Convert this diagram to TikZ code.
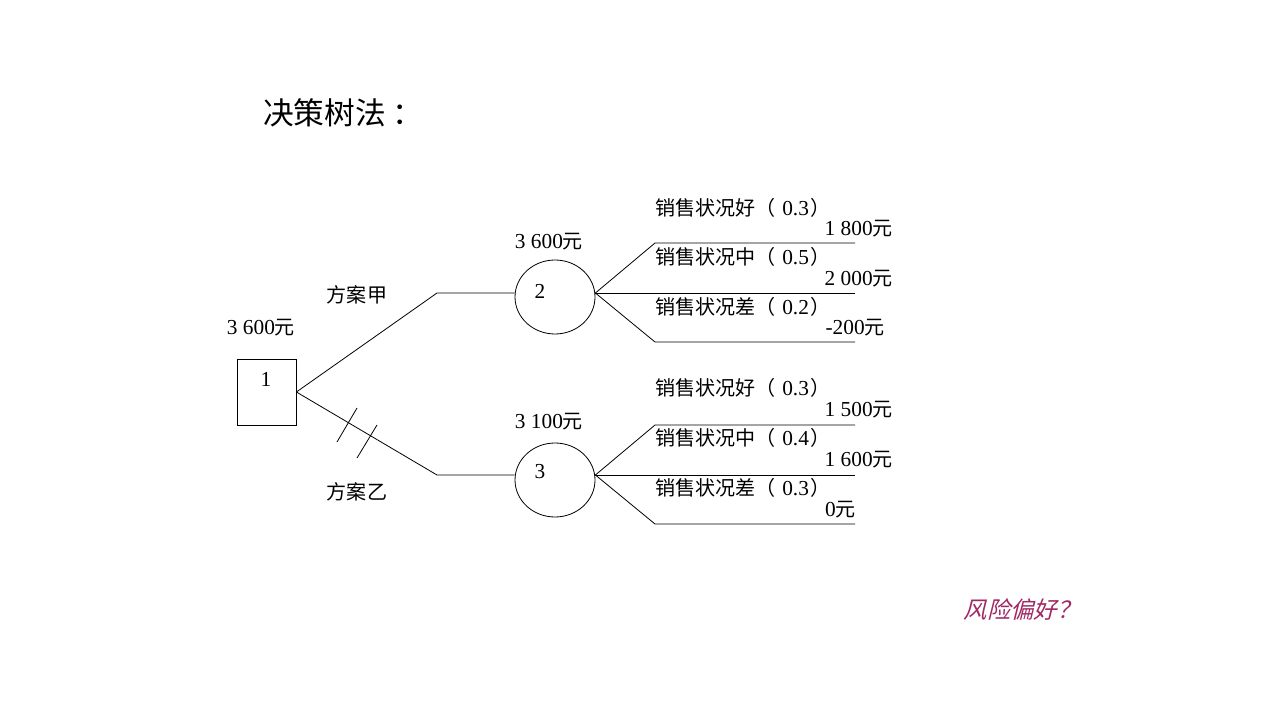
\documentclass[tikz,border=0pt]{standalone}
\usepackage{fontspec}
\usetikzlibrary{shapes.geometric}
\setmainfont{Liberation Serif}
\newfontfamily\cjk[Scale=0.94]{Noto Sans CJK SC}
\newfontfamily\cjkit[FakeSlant=0.25]{Noto Sans CJK SC}
\newcommand{\zh}[1]{{\cjk #1}}
\newcommand{\prob}[2]{\zh{#1（}\hspace{5pt}#2\hspace{1pt}\zh{）}}
\definecolor{askcolor}{RGB}{160,40,100}
\tikzset{
  txt/.style={inner sep=0pt,font=\fontsize{16}{19}\selectfont},
  decbox/.style={draw,minimum width=44.25pt,minimum height=49.5pt,inner sep=0pt},
  chance/.style={draw,ellipse,minimum width=60pt,minimum height=55.5pt,inner sep=0pt},
  branch/.style={line width=0.6pt}
}
\begin{document}
\begin{tikzpicture}[x=0.75pt,y=-0.75pt]
        \useasboundingbox (0,0) rectangle (1280,720);
        \node[txt,anchor=west,font=\fontsize{24.5}{28}\selectfont] (title) at (263,113) {\zh{决策树法}\hspace{5pt}\zh{：}};
        % decision node and chance nodes
        \node[decbox,line width=0.6pt] (n1) at (266.5,392) {};
        \node[txt] (l1) at (266,379) {1};
        \node[chance,line width=0.6pt] (n2) at (555,297) {};
        \node[txt] (l2) at (540,291) {2};
        \node[chance,line width=0.6pt] (n3) at (555,480) {};
        \node[txt] (l3) at (540,472) {3};
        \node[txt] (v1) at (261,328) {3 600\zh{元}};
        \node[txt] (v2) at (549,242) {3 600\zh{元}};
        \node[txt] (v3) at (549,422) {3 100\zh{元}};
        \node[txt] (pa) at (357,295) {\zh{方案甲}};
        \node[txt] (pb) at (357,492) {\zh{方案乙}};
        % alternatives
        \coordinate (ka) at (437,293);
        \coordinate (kb) at (437,475);
        \draw[branch] (n1.east) -- (ka) -- (n2.west |- ka);
        \draw[branch] (n1.east) -- (kb) -- (n3.west |- kb);
        \draw[branch] (337,442) -- (357,408);
        \draw[branch] (357,458) -- (377,425);
        % outcomes of 2
        \coordinate (o21) at (655,243);
        \coordinate (o23) at (655,342);
        \draw[branch] (n2.east |- ka) -- (o21) -- (855,243);
        \draw[branch] (n2.east |- ka) -- (855,293);
        \draw[branch] (n2.east |- ka) -- (o23) -- (855,342);
        \node[txt,anchor=west] (s21) at (655,208) {\prob{销售状况好}{0.3}};
        \node[txt,anchor=east] (r21) at (893,229) {1 800\zh{元}};
        \node[txt,anchor=west] (s22) at (655,257) {\prob{销售状况中}{0.5}};
        \node[txt,anchor=east] (r22) at (893,279) {2 000\zh{元}};
        \node[txt,anchor=west] (s23) at (655,307) {\prob{销售状况差}{0.2}};
        \node[txt,anchor=east] (r23) at (885,328) {-200\zh{元}};
        % outcomes of 3
        \coordinate (o31) at (655,425);
        \coordinate (o33) at (655,524);
        \draw[branch] (n3.east |- kb) -- (o31) -- (855,425);
        \draw[branch] (n3.east |- kb) -- (855,475);
        \draw[branch] (n3.east |- kb) -- (o33) -- (855,524);
        \node[txt,anchor=west] (s31) at (655,388) {\prob{销售状况好}{0.3}};
        \node[txt,anchor=east] (r31) at (893,410) {1 500\zh{元}};
        \node[txt,anchor=west] (s32) at (655,438) {\prob{销售状况中}{0.4}};
        \node[txt,anchor=east] (r32) at (893,460) {1 600\zh{元}};
        \node[txt,anchor=west] (s33) at (655,488) {\prob{销售状况差}{0.3}};
        \node[txt,anchor=east] (r33) at (856,510) {0\zh{元}};
        \node[txt,text=askcolor,font=\fontsize{17.5}{21}\cjkit] (ask) at (1022,610) {风险偏好？};
    \end{tikzpicture}
\end{document}
